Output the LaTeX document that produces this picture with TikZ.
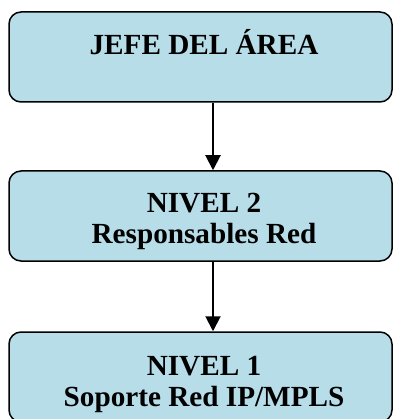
\documentclass[tikz,border=0pt]{standalone}
\usepackage{fontspec}
\setmainfont{Liberation Serif}
\usetikzlibrary{arrows.meta}
\definecolor{boxfill}{HTML}{B7DDE8}
\tikzset{
  levelbox/.style={draw=black, line width=1.5pt, fill=boxfill, rounded corners=12pt,
    minimum width=383pt, minimum height=90pt, inner sep=0pt},
  leveltext/.style={anchor=base, align=center, inner sep=0pt,
    font=\fontsize{29.2}{31.5}\selectfont\bfseries},
  link/.style={line width=2pt, -{Triangle[width=15pt,length=15pt]}}
}
\begin{document}
\begin{tikzpicture}[x=1pt,y=1pt]
  \useasboundingbox (0,0) rectangle (393,-419);
  % rounded boxes of the three levels
  \node[levelbox] (jefe) at (200.5,-57) {};
  \node[levelbox] (n2) at (200.5,-216) {};
  \node[levelbox] (n1) at (200.5,-377) {};
  % labels, placed by the baseline of their last line
  \node[leveltext] (tjefe) at (204,-55) {JEFE DEL ÁREA};
  \node[leveltext] (tn2) at (204,-243.5) {NIVEL 2\\Responsables Red};
  \node[leveltext] (tn1) at (204,-406.5) {NIVEL 1\\Soporte Red IP/MPLS};
  % connectors
  \coordinate (axis) at (213,0);
  \draw[link] (jefe.south -| axis) -- (n2.north -| axis);
  \draw[link] (n2.south -| axis) -- (n1.north -| axis);
\end{tikzpicture}
\end{document}
